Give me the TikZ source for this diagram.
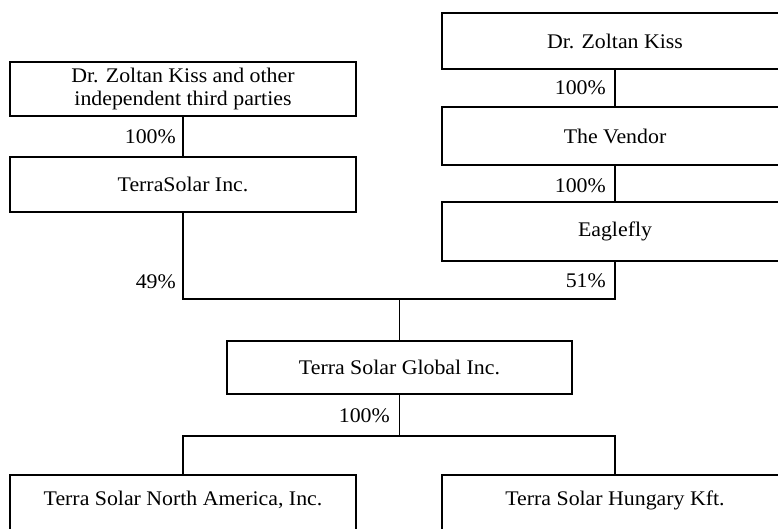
\documentclass[tikz,border=0pt]{standalone}
\usepackage{fontspec}
\setmainfont{Liberation Serif}[FakeStretch=1.05]
\begin{document}
\begin{tikzpicture}[x=1pt,y=-1pt,
  box/.style={draw, line width=1.1pt, rectangle, minimum width=346pt, inner sep=0pt, align=center, font=\fontsize{20.8}{23}\selectfont},
  pct/.style={anchor=east, inner sep=0pt, font=\fontsize{20.8}{23}\selectfont},
  link/.style={line width=1.1pt}]
\useasboundingbox (0,0) rectangle (778,529);
\clip (0,0) rectangle (778,529);
\fill[white] (0,0) rectangle (778,529);
% left column
\node[box, minimum height=54pt] (A) at (183,89) {Dr. Zoltan Kiss and other\\independent third parties};
\node[box, minimum height=55pt] (TS) at (183,184.5) {TerraSolar Inc.};
% right column
\node[box, minimum height=56pt] (K) at (615,41) {Dr. Zoltan Kiss};
\node[box, minimum height=58pt] (V) at (615,136) {The Vendor};
\node[box, minimum height=59pt] (E) at (615,231.5) {Eaglefly};
% global
\node[box, minimum width=345pt, minimum height=53pt] (G) at (399.5,367.5) {Terra Solar Global Inc.};
% bottom
\node[box, minimum height=56pt] (NA) at (183,503) {Terra Solar North America, Inc.\\[-13pt]};
\node[box, minimum height=56pt] (HU) at (615,503) {Terra Solar Hungary Kft.\\[-13pt]};
% junctions
\coordinate (j1) at (399.5,299);
\coordinate (j2) at (399.5,436);
% connectors
\draw[link] (A.south) -- (TS.north);
\draw[link] (K.south) -- (V.north);
\draw[link] (V.south) -- (E.north);
\draw[link] (TS.south) |- (j1);
\draw[link] (E.south) |- (j1);
\draw[link] (j1) -- (G.north);
\draw[link] (G.south) -- (j2);
\draw[link] (j2) -| (NA.north);
\draw[link] (j2) -| (HU.north);
% labels
\node[pct] (l1) at (176,137) {100\%};
\node[pct] (l2) at (606,88) {100\%};
\node[pct] (l3) at (606,186) {100\%};
\node[pct] (l4) at (176,282) {49\%};
\node[pct] (l5) at (606,281) {51\%};
\node[pct] (l6) at (390,416) {100\%};
\end{tikzpicture}
\end{document}
